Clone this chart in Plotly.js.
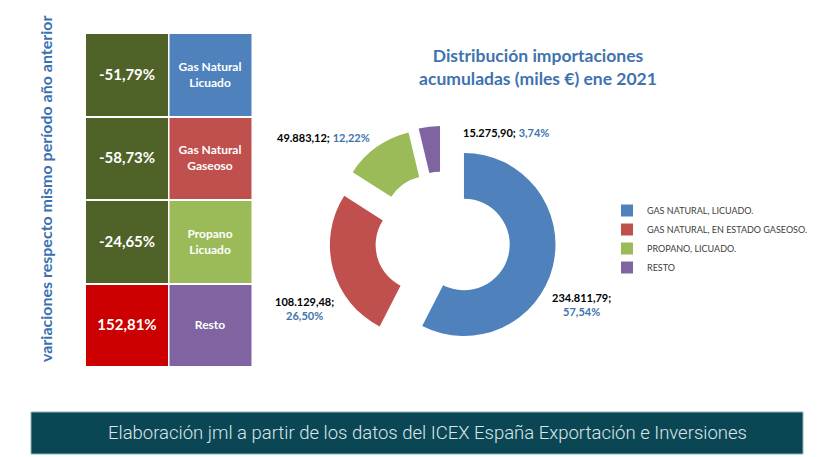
<!DOCTYPE html>
<html><head><meta charset="utf-8">
<script src="https://cdn.plot.ly/plotly-3.0.1.min.js"></script>
<style>html,body{margin:0;padding:0;background:#fff}#chart{width:822px;height:457px}</style>
</head><body><div id="chart"></div>
<script>
// ---- data ----
const categories = ["GAS NATURAL, LICUADO.", "GAS NATURAL, EN ESTADO GASEOSO.", "PROPANO, LICUADO.", "RESTO"];
const shortNames = ["Gas Natural<br>Licuado", "Gas Natural<br>Gaseoso", "Propano<br>Licuado", "Resto"];
const importValues = [234811.79, 108129.48, 49883.12, 15275.90];
const variations = [-51.79, -58.73, -24.65, 152.81];
const sliceColors = ["#4F81BD", "#C0504D", "#9BBB59", "#8064A2"];
const titleText = "Distribución importaciones<br>acumuladas (miles €) ene 2021";
const sideText = "variaciones respecto mismo período año anterior";
const footerText = "Elaboración jml a partir de los datos del ICEX España Exportación e Inversiones";

function fmtEs(v, dec) {
  const p = Math.abs(v).toFixed(dec).split('.');
  const i = p[0].replace(/\B(?=(\d{3})+(?!\d))/g, '.');
  return (v < 0 ? '-' : '') + i + (dec > 0 ? ',' + p[1] : '');
}
const total = importValues.reduce((a, b) => a + b, 0);
const pctText = importValues.map(v => fmtEs(v / total * 100, 2) + '%');
const valText = importValues.map(v => fmtEs(v, 2) + ';');

const W = 822, H = 457;
const px = x => x / W, py = y => 1 - y / H;

const rows = categories.map((_, i) => i);

const varTrace = {
  type: 'heatmap', x: [0], y: rows,
  z: variations.map(v => [v]),
  text: variations.map(v => [fmtEs(v, 2) + '%']),
  texttemplate: '<b>%{text}</b>',
  textfont: {family: 'Lato', size: 15, color: '#ffffff'},
  colorscale: [[0, '#4F6228'], [0.5, '#4F6228'], [0.5, '#CC0000'], [1, '#CC0000']],
  zmin: -200, zmax: 200, showscale: false, xgap: 2, ygap: 2,
  hoverinfo: 'skip', showlegend: false
};
const nameTrace = {
  type: 'heatmap', x: [1], y: rows,
  z: rows.map(i => [i]),
  text: shortNames.map(s => [s]),
  texttemplate: '<b>%{text}</b>',
  textfont: {family: 'Lato', size: 12, color: '#ffffff'},
  colorscale: [[0, sliceColors[0]], [0.25, sliceColors[0]], [0.25, sliceColors[1]], [0.5, sliceColors[1]],
               [0.5, sliceColors[2]], [0.75, sliceColors[2]], [0.75, sliceColors[3]], [1, sliceColors[3]]],
  zmin: -0.5, zmax: 3.5, showscale: false, xgap: 2, ygap: 2,
  hoverinfo: 'skip', showlegend: false
};
const pieTrace = {
  type: 'pie', values: importValues, labels: categories,
  marker: {colors: sliceColors, line: {width: 0}},
  hole: 0.5, pull: 0.24, sort: false, direction: 'clockwise', rotation: 0,
  textinfo: 'none', hoverinfo: 'label+value+percent',
  domain: {x: [px(329.1), px(556.1)], y: [py(352.8), py(125.8)]}
};

// data label positions (pixel centres)
const labelPos = [[581, 304], [304, 308], [323, 137], [506, 132]];
const labelBreak = [true, true, false, false];
const labelAnn = importValues.map((v, i) => ({
  xref: 'paper', yref: 'paper', x: px(labelPos[i][0]), y: py(labelPos[i][1]),
  xanchor: 'center', yanchor: 'middle', showarrow: false,
  text: '<b>' + valText[i] + '</b>' + (labelBreak[i] ? '<br>' : ' ') +
        "<b><span style='color:#3F73AE'>" + pctText[i] + '</span></b>',
  font: {family: 'Lato', size: 11, color: '#000000'}
}));

const layout = {
  width: W, height: H, margin: {l: 0, r: 0, t: 0, b: 0},
  paper_bgcolor: '#ffffff', plot_bgcolor: '#ffffff',
  title: {text: '<b>' + titleText + '</b>', font: {family: 'Lato', size: 17.5, color: '#3F73AE'},
          x: px(538), xanchor: 'center', xref: 'paper', y: py(62), yanchor: 'top', yref: 'paper'},
  xaxis: {domain: [px(85), px(252)], range: [-0.5, 1.5], visible: false, fixedrange: true},
  yaxis: {domain: [py(367), py(33)], range: [3.5, -0.5], visible: false, fixedrange: true},
  showlegend: true,
  legend: {x: px(607), y: py(196), xanchor: 'left', yanchor: 'top',
           font: {family: 'Lato', size: 9, color: '#404040'}, bgcolor: 'rgba(0,0,0,0)'},
  shapes: [{type: 'rect', xref: 'paper', yref: 'paper', x0: px(31), x1: px(803), y0: py(454), y1: py(412),
            fillcolor: '#0B4654', line: {color: '#8FB3BC', width: 1}, layer: 'below'}],
  annotations: labelAnn.concat([
    {xref: 'paper', yref: 'paper', x: px(45), y: py(189), textangle: -90, showarrow: false,
     xanchor: 'center', yanchor: 'middle',
     text: '<b>' + sideText + '</b>', font: {family: 'Lato', size: 16, color: '#3A70B0'}},
    {xref: 'paper', yref: 'paper', x: px(427), y: py(433), showarrow: false,
     xanchor: 'center', yanchor: 'middle',
     text: footerText, font: {family: 'Roboto', size: 18.5, weight: 300, color: '#DCE6EA'}}
  ])
};

Plotly.newPlot('chart', [varTrace, nameTrace, pieTrace], layout, {displayModeBar: false});
</script></body></html>
